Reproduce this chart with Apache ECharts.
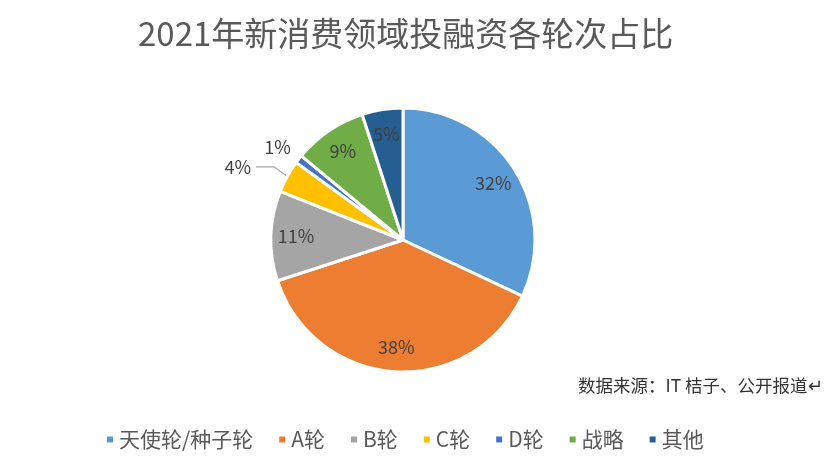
<!DOCTYPE html>
<html><head><meta charset="utf-8">
<script src="https://cdn.jsdelivr.net/npm/echarts@6/dist/echarts.min.js"></script>
<style>html,body{margin:0;padding:0;background:#fff}#c{width:831px;height:467px}</style>
</head><body><div id="c"></div>
<script>
const categories = ['天使轮/种子轮', 'A轮', 'B轮', 'C轮', 'D轮', '战略', '其他'];
const values = [32, 38, 11, 4, 1, 9, 5];
const colors = ['#5B9BD5', '#ED7D31', '#A5A5A5', '#FFC000', '#4472C4', '#70AD47', '#255E91'];
const outsideLabels = ['C轮', 'D轮'];
const titleText = '2021年新消费领域投融资各轮次占比';
const sourceText = '数据来源：IT 桔子、公开报道↵';

const font = '"Noto Sans CJK SC", "Noto Sans", sans-serif';
const chart = echarts.init(document.getElementById('c'));

const mainData = categories.map((n, i) => {
  const d = { name: n, value: values[i], itemStyle: { color: colors[i] } };
  if (n === 'C轮') {
    d.label = { show: true, position: 'outside', padding: [0, 0, 10, 0] };
    d.labelLine = { show: true, length: 26, length2: 18, lineStyle: { color: '#A6A6A6', width: 1.2 } };
  } else if (n === 'D轮') {
    d.label = { show: true, position: 'outside', distanceToLabelLine: -8 };
    d.labelLine = { show: false, length: 20, length2: 0 };
  } else {
    d.label = { show: false };
  }
  return d;
});
const overlayData = categories.map((n, i) => ({
  name: n, value: values[i],
  label: { show: outsideLabels.indexOf(n) < 0 }
}));

chart.setOption({
  animation: false,
  color: colors,
  title: {
    text: titleText, left: 133, top: 12,
    textStyle: { fontFamily: font, fontSize: 33, fontWeight: 'normal', color: '#595959' }
  },
  legend: {
    data: categories, bottom: 12, left: 100, icon: 'rect',
    itemWidth: 8, itemHeight: 8, itemGap: 24,
    textStyle: { fontFamily: font, fontSize: 21, color: '#595959' }
  },
  graphic: [{
    type: 'text', left: 578, top: 377,
    style: { text: sourceText, font: '17.5px ' + font, fill: '#333' }
  }],
  series: [{
    type: 'pie', name: 'main', center: [403, 240], radius: [0, 132],
    startAngle: 90, clockwise: true,
    itemStyle: { borderColor: '#fff', borderWidth: 3 },
    label: { formatter: '{c}%', fontFamily: font, fontSize: 18, color: '#404040' },
    emphasis: { disabled: true },
    data: mainData
  }, {
    type: 'pie', name: 'labels', center: [403, 240], radius: [76, 132],
    startAngle: 90, clockwise: true, silent: true, legendHoverLink: false,
    itemStyle: { color: 'rgba(0,0,0,0)', borderWidth: 0 },
    label: { position: 'inside', formatter: '{c}%', fontFamily: font, fontSize: 18, color: '#404040' },
    labelLine: { show: false },
    emphasis: { disabled: true },
    data: overlayData
  }]
});
</script></body></html>
